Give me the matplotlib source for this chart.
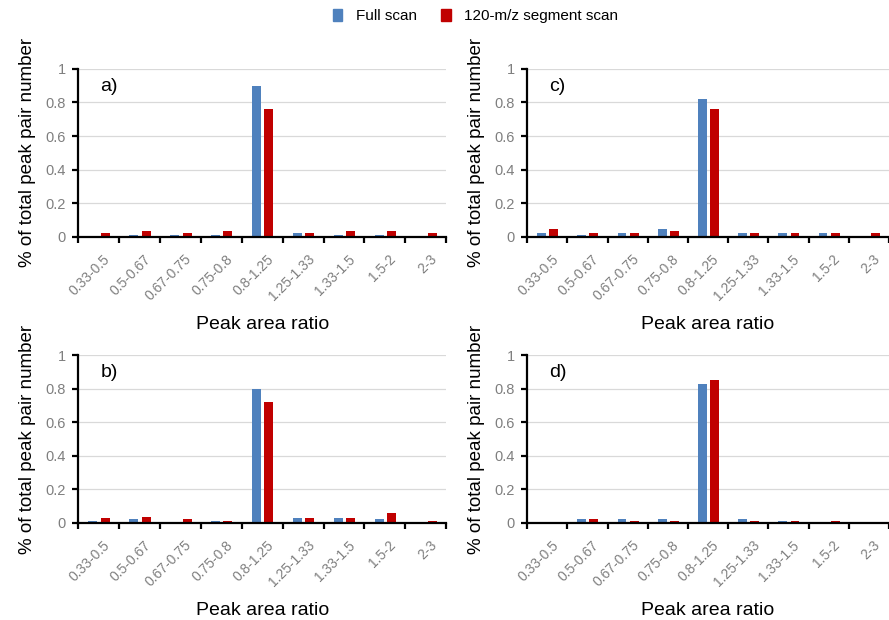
import matplotlib
matplotlib.use('Agg')
import matplotlib.pyplot as plt
from matplotlib.patches import Patch
import numpy as np

plt.rcParams['font.family'] = ['Liberation Sans', 'DejaVu Sans']

ratio_bins = ['0.33-0.5', '0.5-0.67', '0.67-0.75', '0.75-0.8', '0.8-1.25',
              '1.25-1.33', '1.33-1.5', '1.5-2', '2-3']

# fraction of peak pairs per ratio bin
full_a = [0.0, 0.01, 0.01, 0.01, 0.90, 0.02, 0.01, 0.01, 0.0]
seg_a = [0.02, 0.035, 0.025, 0.035, 0.76, 0.025, 0.035, 0.035, 0.02]
full_b = [0.01, 0.02, 0.0, 0.01, 0.80, 0.03, 0.03, 0.02, 0.0]
seg_b = [0.025, 0.035, 0.02, 0.01, 0.72, 0.025, 0.025, 0.06, 0.01]
full_c = [0.02, 0.01, 0.025, 0.045, 0.82, 0.02, 0.02, 0.02, 0.0]
seg_c = [0.045, 0.025, 0.025, 0.035, 0.76, 0.025, 0.025, 0.02, 0.02]
full_d = [0.0, 0.02, 0.02, 0.02, 0.83, 0.02, 0.01, 0.0, 0.0]
seg_d = [0.0, 0.02, 0.01, 0.01, 0.85, 0.01, 0.01, 0.01, 0.0]

panels = [('a)', full_a, seg_a), ('b)', full_b, seg_b),
          ('c)', full_c, seg_c), ('d)', full_d, seg_d)]

blue = '#4F81BD'
red = '#C00000'
gray = '#7F7F7F'

fig = plt.figure(figsize=(8.89, 6.20), dpi=100)
boxes = {'a)': [0.088, 0.618, 0.414, 0.271],
         'b)': [0.088, 0.157, 0.414, 0.270],
         'c)': [0.593, 0.618, 0.407, 0.271],
         'd)': [0.593, 0.157, 0.407, 0.270]}

x = np.arange(len(ratio_bins))
bw = 0.22
for tag, full, seg in panels:
    ax = fig.add_axes(boxes[tag])
    ax.bar(x - 0.14, full, bw, color=blue, zorder=3)
    ax.bar(x + 0.16, seg, bw, color=red, zorder=3)
    ax.set_xlim(-0.5, len(ratio_bins) - 0.5)
    ax.set_ylim(0, 1)
    ax.set_yticks(np.arange(0, 1.01, 0.2))
    ax.set_yticklabels(['0', '0.2', '0.4', '0.6', '0.8', '1'])
    ax.grid(axis='y', color='#D9D9D9', lw=0.9, zorder=0)
    for side in ['top', 'right']:
        ax.spines[side].set_visible(False)
    for side in ['left', 'bottom']:
        ax.spines[side].set_linewidth(1.6)
        ax.spines[side].set_zorder(4)
    # ticks on category boundaries, labels at centres
    ax.set_xticks(np.arange(-0.5, len(ratio_bins)), minor=False)
    ax.set_xticklabels([])
    ax.set_xticks(x + 0.1, minor=True)
    ax.set_xticklabels(ratio_bins, minor=True, rotation=45, ha='right',
                       rotation_mode='anchor', color=gray, fontsize=10)
    ax.tick_params(axis='x', which='minor', length=0, pad=11)
    ax.tick_params(axis='x', which='major', length=4, width=1.6)
    ax.tick_params(axis='y', length=4, width=1.6, labelsize=10.5,
                   labelcolor=gray, pad=5)
    ax.set_xlabel('Peak area ratio', fontsize=14, labelpad=9)
    ax.set_ylabel('% of total peak pair number', fontsize=13.5, labelpad=7)
    ax.text(0.06, 0.87, tag, transform=ax.transAxes, fontsize=14)

handles = [Patch(color=blue, label='Full scan'),
           Patch(color=red, label='120-m/z segment scan')]
fig.legend(handles=handles, loc='upper center', ncol=2, frameon=False,
           bbox_to_anchor=(0.535, 1.008), fontsize=11, handlelength=0.6,
           handleheight=0.9, columnspacing=1.6, handletextpad=0.9)

fig.savefig('out.png', dpi=100)
